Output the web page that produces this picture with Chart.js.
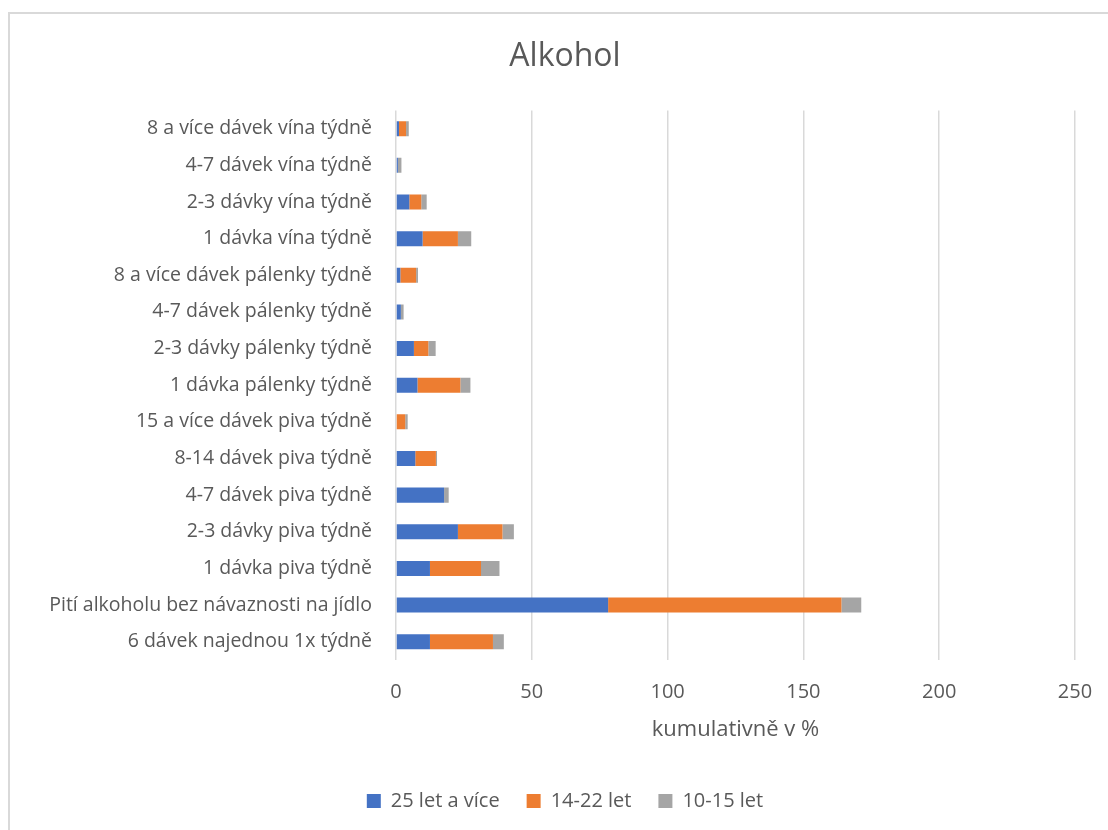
<!DOCTYPE html>
<html lang="cs">
<head>
<meta charset="utf-8">
<script src="https://cdn.jsdelivr.net/npm/chart.js@4"></script>
<style>
  html, body { margin: 0; padding: 0; background: #fff; }
  #wrap { position: relative; width: 1108px; height: 830px; overflow: hidden; }
  #frame { position: absolute; left: 8px; top: 12px; width: 1200px; height: 900px;
           border-left: 2px solid #d9d9d9; border-top: 2px solid #d9d9d9; }
  canvas { position: absolute; left: 0; top: 0; }
</style>
</head>
<body>
<div id="wrap">
  <div id="frame"></div>
  <canvas id="chart" width="1130" height="830"></canvas>
</div>
<script>
// ── Kategorie a hodnoty (shora dolů) ──
const categories = [
    '8 a více dávek vína týdně',
    '4-7 dávek vína týdně',
    '2-3 dávky vína týdně',
    '1 dávka vína týdně',
    '8 a více dávek pálenky týdně',
    '4-7 dávek pálenky týdně',
    '2-3 dávky pálenky týdně',
    '1 dávka pálenky týdně',
    '15 a více dávek piva týdně',
    '8-14 dávek piva týdně',
    '4-7 dávek piva týdně',
    '2-3 dávky piva týdně',
    '1 dávka piva týdně',
    'Pití alkoholu bez návaznosti na jídlo',
    '6 dávek najednou 1x týdně'
];
const adults25 = [1.1, 0.7, 4.9, 9.8, 1.6, 1.8, 6.6, 7.9, 0, 7.1, 17.7, 22.8, 12.5, 78.1, 12.5];
const youth14 = [2.6, 0, 4.4, 13.0, 5.8, 0, 5.3, 15.8, 3.4, 7.6, 0, 16.4, 18.8, 85.9, 23.2];
const kids10 = [1.0, 1.3, 2.0, 4.9, 0.7, 1.0, 2.7, 3.7, 0.9, 0.4, 1.7, 4.2, 6.8, 7.3, 4.0];
const seriesNames = ['25 let a více', '14-22 let', '10-15 let'];
const xTicks = [0, 50, 100, 150, 200, 250];

const FONT = "'Open Sans', 'Liberation Sans', sans-serif";
const GREY_TEXT = '#595959';

const ds = (label, data, color) => ({
    label, data,
    backgroundColor: color,
    borderWidth: 0,
    barPercentage: 0.41,
    categoryPercentage: 1
});

new Chart(document.getElementById('chart'), {
    type: 'bar',
    data: {
        labels: categories,
        datasets: [
            ds(seriesNames[0], adults25, '#4472C4'),
            ds(seriesNames[1], youth14, '#ED7D31'),
            ds(seriesNames[2], kids10, '#A5A5A5')
        ]
    },
    options: {
        indexAxis: 'y',
        responsive: false,
        animation: false,
        layout: { padding: { left: 0, right: 0, top: 0, bottom: 9 } },
        plugins: {
            title: {
                display: true,
                text: 'Alkohol',
                color: GREY_TEXT,
                font: { family: FONT, size: 32, weight: 'normal' },
                padding: { top: 38, bottom: 34 }
            },
            legend: {
                position: 'bottom',
                labels: {
                    color: GREY_TEXT,
                    font: { family: FONT, size: 20 },
                    boxWidth: 14,
                    boxHeight: 14,
                    padding: 27
                }
            },
            tooltip: { enabled: false }
        },
        scales: {
            x: {
                stacked: true,
                min: 0,
                max: 250,
                afterBuildTicks: s => { s.ticks = xTicks.map(v => ({ value: v })); },
                grid: { color: '#d9d9d9', lineWidth: 1.5, drawTicks: false },
                border: { display: false },
                ticks: { color: GREY_TEXT, font: { family: FONT, size: 20 }, padding: 20 },
                title: {
                    display: true,
                    text: 'kumulativně v %',
                    color: GREY_TEXT,
                    font: { family: FONT, size: 22 },
                    padding: { top: 10, bottom: 21 }
                },
                afterFit: s => { s.height = 104; }
            },
            y: {
                stacked: true,
                grid: { display: false },
                border: { display: false },
                ticks: { color: GREY_TEXT, font: { family: FONT, size: 19.5 }, padding: 16, autoSkip: false },
                afterFit: s => { s.width = 396; }
            },
            // prázdný pravý okraj, aby titulek i legenda byly uprostřed rámečku
            yRight: {
                type: 'category',
                position: 'right',
                grid: { display: false },
                border: { display: false },
                ticks: { display: false },
                afterFit: s => { s.width = 55; }
            }
        }
    }
});
</script>
</body>
</html>
